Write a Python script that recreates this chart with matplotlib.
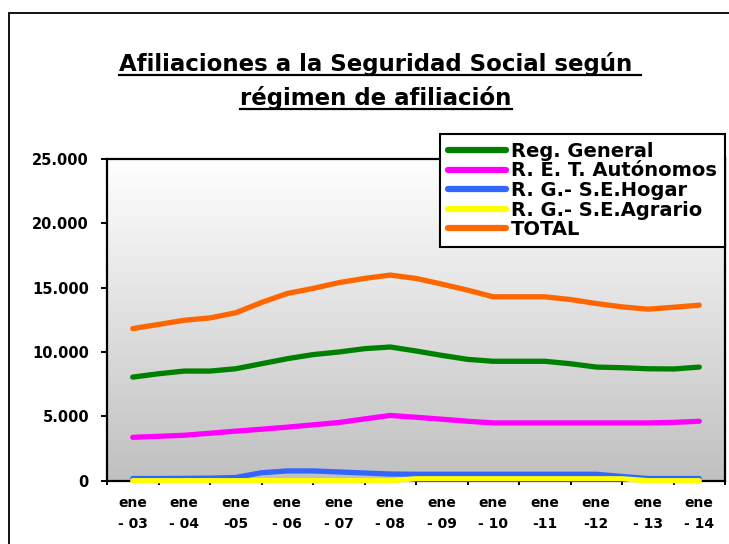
import matplotlib
matplotlib.use('Agg')
import matplotlib.pyplot as plt
import numpy as np
from matplotlib.lines import Line2D
from matplotlib.patches import Rectangle
from matplotlib.ticker import FuncFormatter

# semi-annual readings (enero / julio)
periodos = ['ene-03', 'jul-03', 'ene-04', 'jul-04', 'ene-05', 'jul-05', 'ene-06', 'jul-06',
            'ene-07', 'jul-07', 'ene-08', 'jul-08', 'ene-09', 'jul-09', 'ene-10', 'jul-10',
            'ene-11', 'jul-11', 'ene-12', 'jul-12', 'ene-13', 'jul-13', 'ene-14']
reg_general = [8050, 8310, 8520, 8520, 8700, 9090, 9480, 9800, 10000, 10260, 10390, 10080,
               9740, 9430, 9280, 9280, 9280, 9090, 8830, 8780, 8700, 8680, 8830]
autonomos = [3370, 3450, 3530, 3690, 3850, 4000, 4160, 4340, 4520, 4800, 5070, 4930,
             4780, 4620, 4490, 4490, 4490, 4490, 4490, 4490, 4490, 4530, 4620]
hogar = [170, 170, 180, 200, 250, 620, 760, 760, 680, 600, 520, 500,
         500, 500, 500, 500, 500, 500, 500, 330, 170, 170, 170]
agrario = [0, 0, 0, 0, 0, 0, 0, 0, 0, 0, 0, 150,
           150, 150, 150, 150, 150, 150, 150, 150, 0, 0, 0]
total = [11820, 12140, 12470, 12650, 13050, 13850, 14550, 14940, 15390, 15720, 15980, 15720,
         15280, 14810, 14290, 14290, 14290, 14080, 13770, 13510, 13330, 13480, 13640]

series_names = ['Reg. General', 'R. E. T. Autónomos', 'R. G.- S.E.Hogar', 'R. G.- S.E.Agrario', 'TOTAL']
series_colors = ['#008000', '#ff00ff', '#3366ff', '#ffff00', '#ff6600']

anios = ['- 03', '- 04', '-05', '- 06', '- 07', '- 08', '- 09', '- 10', '-11', '-12', '- 13', '- 14']
y_ticks = [0, 5000, 10000, 15000, 20000, 25000]

W, H = 729, 544
plt.rcParams['font.family'] = 'DejaVu Sans'
plt.rcParams['font.weight'] = 'bold'

fig = plt.figure(figsize=(W / 100, H / 100), dpi=100)
fig.patch.set_facecolor('white')

# outer chart border (only top and left edges visible)
fig.add_artist(Rectangle((9 / W, -0.1), 1.2, (H - 13) / H + 0.1, transform=fig.transFigure,
                         fill=False, edgecolor='black', linewidth=1.3))

ax = fig.add_axes([107 / W, 1 - 480.7 / H, 618 / W, 321.7 / H])

# grey gradient of the plot area
grad = np.linspace(1.0, 0.753, 256).reshape(-1, 1)
grad = np.dstack([grad, grad, grad])
ax.imshow(grad, extent=[-0.5, 11.5, 0, 25000], aspect='auto', zorder=0, origin='upper')

x = np.arange(len(periodos)) * 0.5
for vals, name, col in zip([reg_general, autonomos, hogar, agrario, total], series_names, series_colors):
    ax.plot(x, vals, color=col, lw=3.8, label=name, solid_capstyle='round',
            solid_joinstyle='round', clip_on=False, zorder=3)

ax.set_xlim(-0.5, 11.5)
ax.set_ylim(0, 25000)

for s in ax.spines.values():
    s.set_linewidth(1.6)
    s.set_color('black')

ax.set_yticks(y_ticks)
ax.yaxis.set_major_formatter(FuncFormatter(lambda v, p: f'{int(v):,}'.replace(',', '.')))
ax.tick_params(axis='y', direction='out', length=4, width=1.4, pad=9, labelsize=10.5)

ax.set_xticks(np.arange(-0.5, 12, 1))
ax.set_xticklabels([])
ax.set_xticks(np.arange(12), minor=True)
ax.set_xticklabels(['ene\n' + a for a in anios], minor=True, linespacing=1.65)
ax.tick_params(axis='x', which='major', direction='out', length=3, width=1.4)
ax.tick_params(axis='x', which='minor', length=0, pad=11, labelsize=10)

leg = ax.legend(loc='upper right', bbox_to_anchor=(725 / W, 1 - 134 / H), bbox_transform=fig.transFigure,
                borderaxespad=0, fancybox=False, framealpha=1, edgecolor='black',
                handlelength=3.0, handletextpad=0.25, labelspacing=0.03, borderpad=0.4,
                prop={'weight': 'bold', 'size': 14})
leg.get_frame().set_linewidth(1.5)
for h in leg.get_lines():
    h.set_linewidth(4.5)

# title, two underlined lines
t1 = fig.text(380 / W, 1 - 71 / H, 'Afiliaciones a la Seguridad Social según ', ha='center', va='baseline',
              fontsize=16.5, fontweight='bold')
t2 = fig.text(376 / W, 1 - 105 / H, 'régimen de afiliación', ha='center', va='baseline',
              fontsize=16.5, fontweight='bold')
fig.canvas.draw()
r = fig.canvas.get_renderer()
for t, yb in [(t1, 71), (t2, 105)]:
    bb = t.get_window_extent(r)
    yu = 1 - (yb + 4) / H
    fig.add_artist(Line2D([bb.x0 / W, bb.x1 / W], [yu, yu], transform=fig.transFigure,
                          color='black', lw=1.6))

fig.savefig('out.png', dpi=100)
